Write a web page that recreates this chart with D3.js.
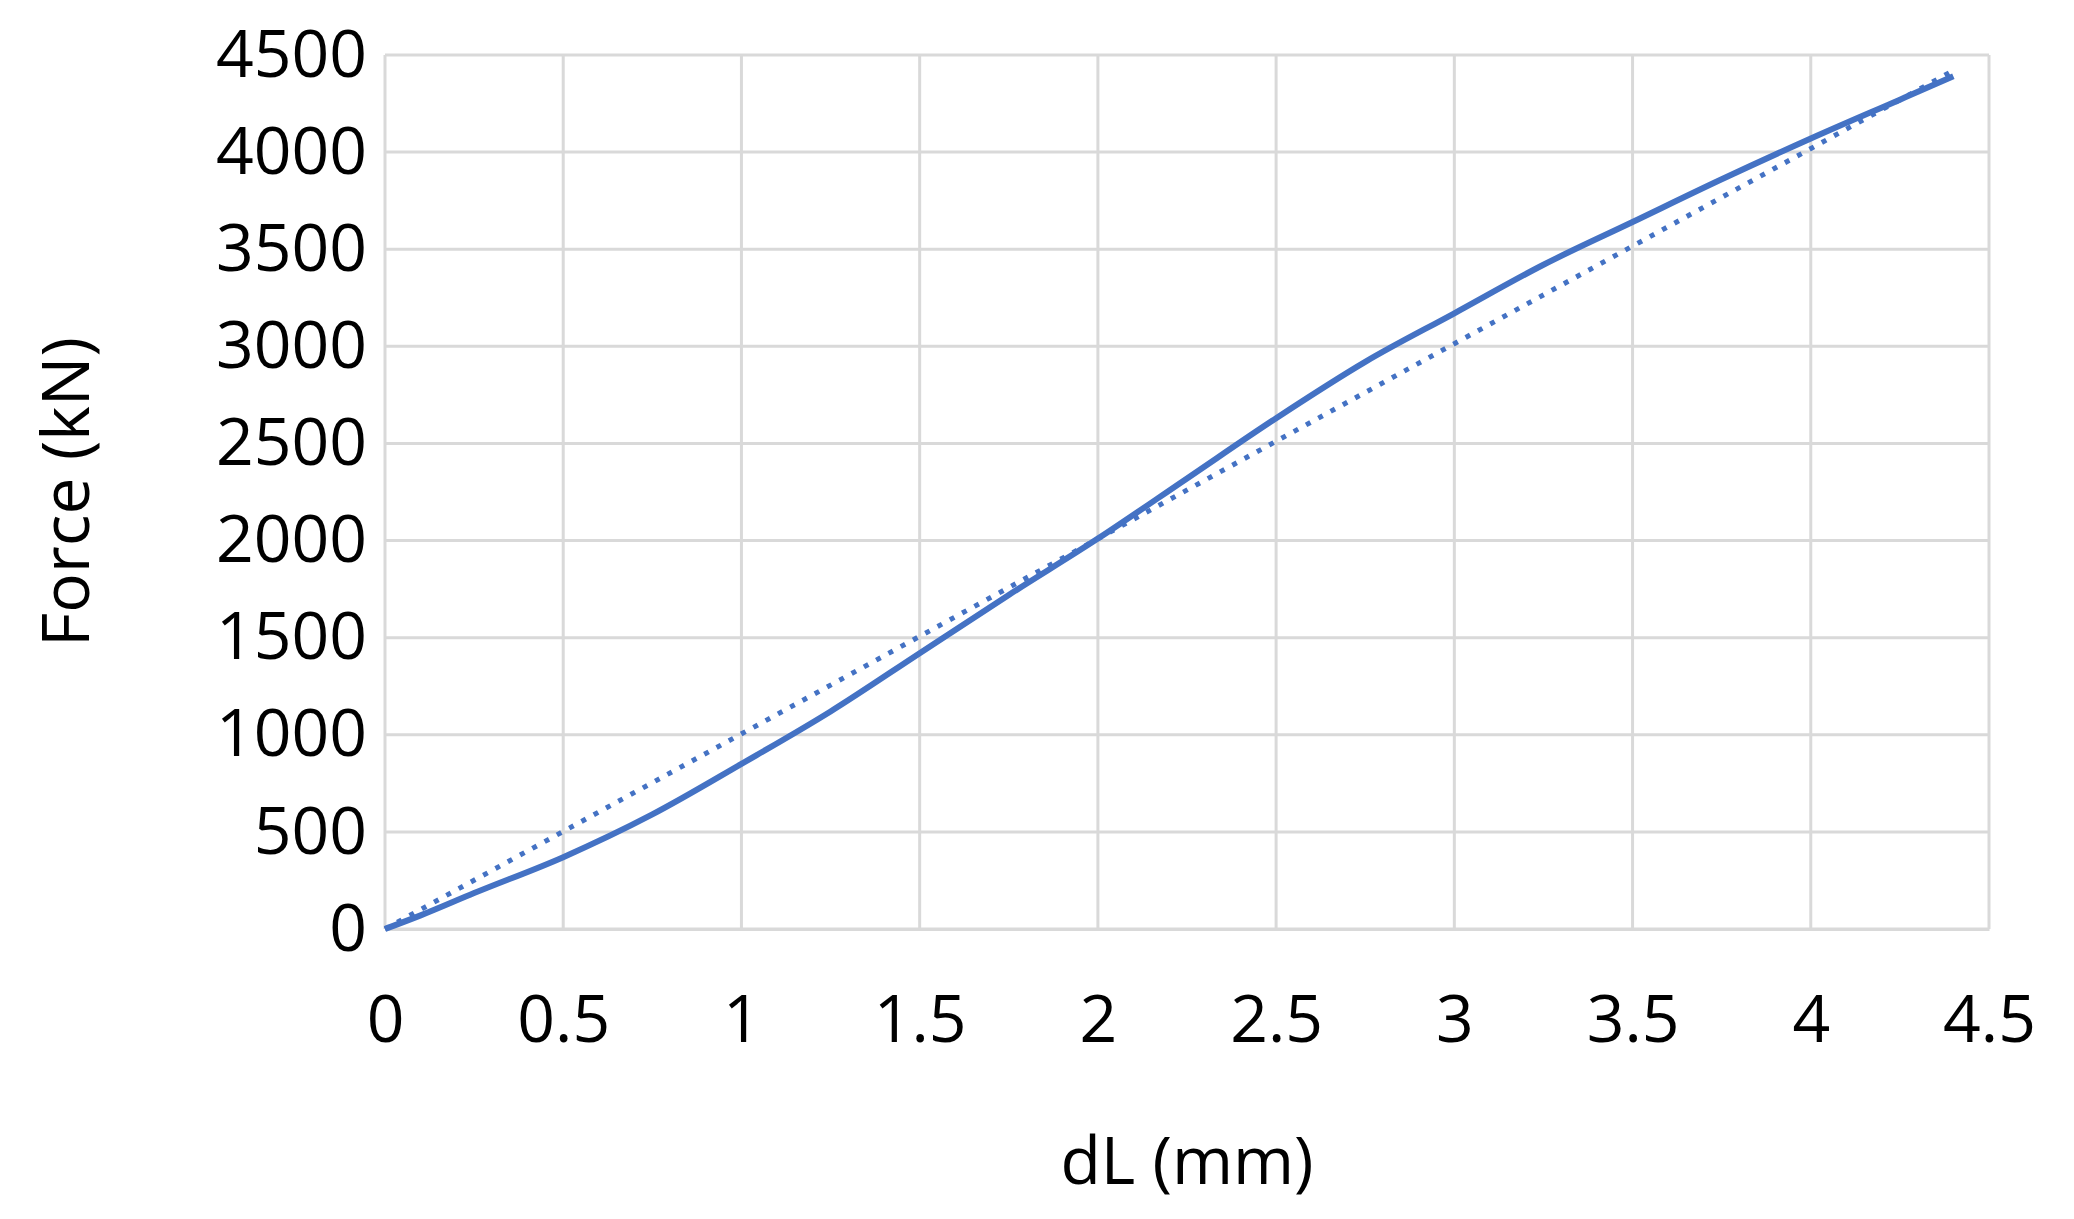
<!DOCTYPE html>
<html>
<head>
<meta charset="utf-8">
<script src="https://cdn.jsdelivr.net/npm/d3@7"></script>
<style>
  body { margin: 0; background: #fff; }
  text { font-family: "Open Sans", sans-serif; fill: #000; }
</style>
</head>
<body>
<div id="chart"></div>
<script>
const dL = [0, 0.1, 0.25, 0.5, 0.75, 1, 1.25, 1.5, 1.75, 2, 2.25, 2.5, 2.75, 3, 3.25, 3.5, 3.75, 4, 4.25, 4.4];
const force = [0, 70, 185, 370, 590, 850, 1120, 1420, 1720, 2010, 2320, 2630, 2920, 3170, 3420, 3640, 3860, 4070, 4270, 4390];
const trendX = [0, 4.4];
const trendY = [0, 4420];
const xTicks = [0, 0.5, 1, 1.5, 2, 2.5, 3, 3.5, 4, 4.5];
const yTicks = [0, 500, 1000, 1500, 2000, 2500, 3000, 3500, 4000, 4500];

const width = 2074, height = 1219;
const margin = { top: 55, right: 72, bottom: 290, left: 385 };
const w = width - margin.left - margin.right - 13;
const h = height - margin.top - margin.bottom;

const svg = d3.select('#chart').append('svg')
  .attr('width', width).attr('height', height)
  .append('g')
  .attr('transform', `translate(${margin.left}, ${margin.top})`);

const scaleX = d3.scaleLinear().domain([0, 4.5]).range([0, w]);
const scaleY = d3.scaleLinear().domain([0, 4500]).range([h, 0]);

// grid
svg.append('g').selectAll('line').data(yTicks).join('line')
  .attr('x1', 0).attr('x2', w)
  .attr('y1', d => scaleY(d)).attr('y2', d => scaleY(d))
  .attr('stroke', '#d9d9d9').attr('stroke-width', 3);
svg.append('g').selectAll('line').data(xTicks).join('line')
  .attr('y1', 0).attr('y2', h)
  .attr('x1', d => scaleX(d)).attr('x2', d => scaleX(d))
  .attr('stroke', '#d9d9d9').attr('stroke-width', 3);

const yAxis = svg.append('g')
  .call(d3.axisLeft(scaleY).tickValues(yTicks).tickFormat(d3.format('d')).tickSize(0).tickPadding(18));
yAxis.select('.domain').remove();
yAxis.selectAll('text').style('font-size', '66px');

const xAxis = svg.append('g')
  .attr('transform', `translate(0, ${h})`)
  .call(d3.axisBottom(scaleX).tickValues(xTicks).tickFormat(d3.format('')).tickSize(0).tickPadding(66));
xAxis.select('.domain').attr('stroke', '#d9d9d9').attr('stroke-width', 3);
xAxis.selectAll('text').style('font-size', '66px');

const line = d3.line().x(d => scaleX(d[0])).y(d => scaleY(d[1])).curve(d3.curveMonotoneX);

svg.append('path')
  .datum(trendX.map((x, i) => [x, trendY[i]]))
  .attr('d', line).attr('fill', 'none')
  .attr('stroke', '#4472c4').attr('stroke-width', 5).attr('stroke-dasharray', '5,9');

svg.append('path')
  .datum(dL.map((x, i) => [x, force[i]]))
  .attr('d', line).attr('fill', 'none')
  .attr('stroke', '#4472c4').attr('stroke-width', 6);

svg.append('text')
  .attr('x', w / 2).attr('y', h + 255)
  .attr('text-anchor', 'middle').style('font-size', '66px')
  .text('dL (mm)');

svg.append('text')
  .attr('transform', `translate(${67 - margin.left + 22}, ${h / 2}) rotate(-90)`)
  .attr('text-anchor', 'middle').style('font-size', '66px')
  .text('Force (kN)');
</script>
</body>
</html>
